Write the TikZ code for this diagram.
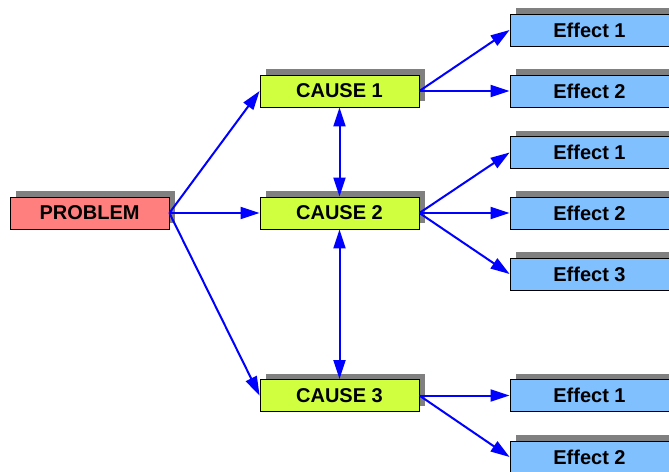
\documentclass[tikz,border=0pt]{standalone}
\usepackage{fontspec}
\setmainfont{Liberation Sans}
\usetikzlibrary{arrows.meta,shadows}
\definecolor{probfill}{HTML}{FF7F7F}
\definecolor{causefill}{HTML}{D0FF40}
\definecolor{efffill}{HTML}{80C0FF}
\definecolor{shadowgray}{HTML}{808080}
\definecolor{arrowblue}{HTML}{0000FF}
\begin{document}
\begin{tikzpicture}[x=1pt,y=-1pt,
  box/.style={draw=black,line width=0.8pt,minimum width=159pt,minimum height=32pt,inner sep=0pt,
    font=\fontsize{20}{20}\selectfont\bfseries,
    drop shadow={shadow xshift=6pt,shadow yshift=6pt,fill=shadowgray,opacity=1}},
  probbox/.style={box,fill=probfill},
  causebox/.style={box,fill=causefill},
  effbox/.style={box,fill=efffill},
  conn/.style={draw=arrowblue,line width=2pt,-{Triangle[length=19pt,width=12pt]}},
  dconn/.style={draw=arrowblue,line width=2pt,{Triangle[length=19pt,width=12pt]}-{Triangle[length=19pt,width=12pt]}}]
\useasboundingbox (0,0) rectangle (669,471);
\node[probbox] (prob) at (89.5,213) {PROBLEM};
\node[causebox] (c1) at (339.5,91) {CAUSE 1};
\node[causebox] (c2) at (339.5,213) {CAUSE 2};
\node[causebox] (c3) at (339.5,395.5) {CAUSE 3};
\node[effbox] (e1) at (589.5,30) {Effect 1};
\node[effbox] (e2) at (589.5,91) {Effect 2};
\node[effbox] (e3) at (589.5,152.5) {Effect 1};
\node[effbox] (e4) at (589.5,213) {Effect 2};
\node[effbox] (e5) at (589.5,274) {Effect 3};
\node[effbox] (e6) at (589.5,395.5) {Effect 1};
\node[effbox] (e7) at (589.5,457) {Effect 2};
\draw[conn] (prob.east) -- (c1.west);
\draw[conn] (prob.east) -- (c2.west);
\draw[conn] (prob.east) -- (c3.west);
\draw[dconn] (c1.south) -- (c2.north);
\draw[dconn] (c2.south) -- (c3.north);
\draw[conn] (c1.east) -- (e1.west);
\draw[conn] (c1.east) -- (e2.west);
\draw[conn] (c2.east) -- (e3.west);
\draw[conn] (c2.east) -- (e4.west);
\draw[conn] (c2.east) -- (e5.west);
\draw[conn] (c3.east) -- (e6.west);
\draw[conn] (c3.east) -- (e7.west);
\end{tikzpicture}
\end{document}
